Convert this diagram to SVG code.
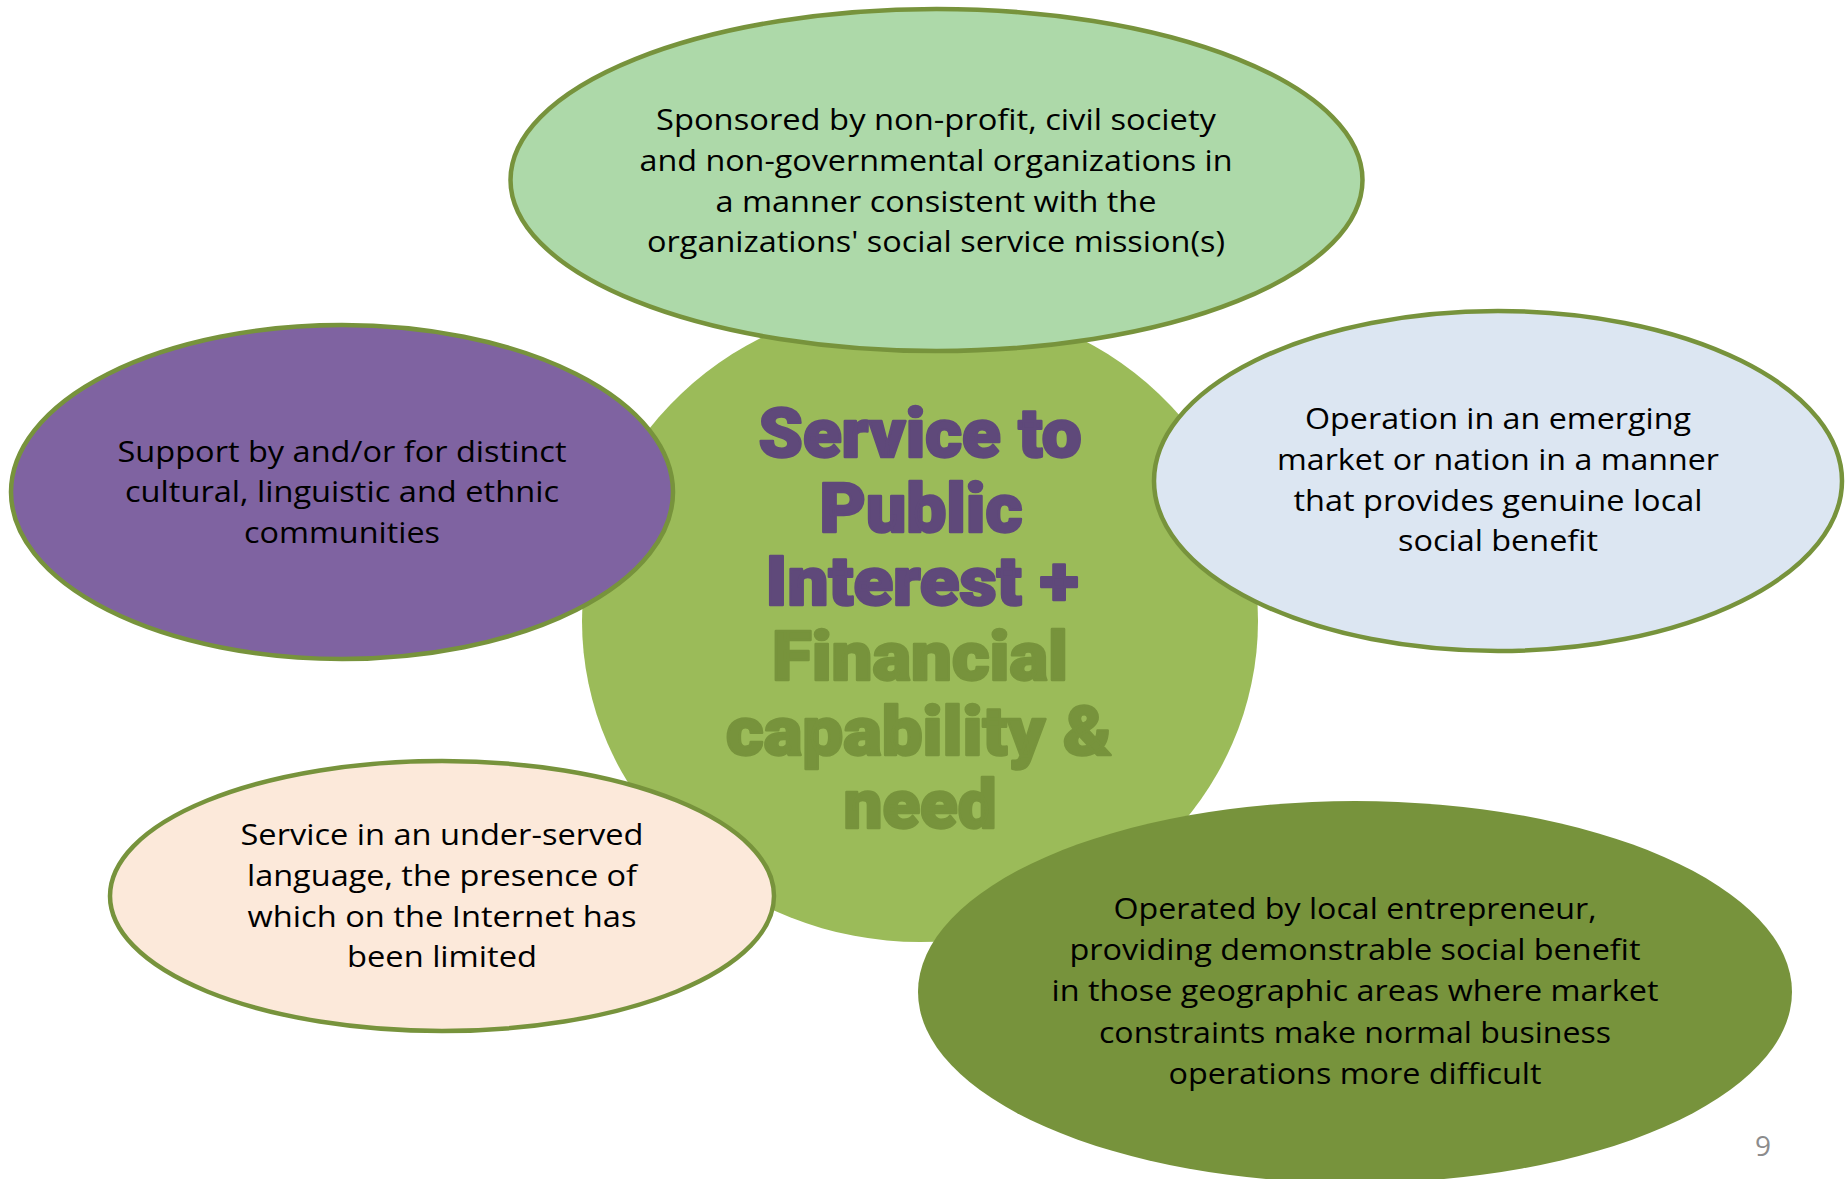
<svg xmlns="http://www.w3.org/2000/svg" width="1847" height="1179" viewBox="0 0 1847 1179">
<style>
.ring{stroke:#77933c;stroke-width:4.5}
.t{font-family:"Open Sans","Liberation Sans",sans-serif;font-size:30px;fill:#000;text-anchor:middle}
.big{font-family:Roboto,"Liberation Sans",sans-serif;font-weight:900;font-size:69px;text-anchor:middle;stroke-width:2.5;stroke-linejoin:round}
.pu{fill:#5f497a;stroke:#5f497a}
.ol{fill:#77933c;stroke:#77933c}
</style>
<rect width="1847" height="1179" fill="#ffffff"/>
<g id="center">
<ellipse cx="920" cy="621" rx="338" ry="321" fill="#9bbb59"/>
<text class="big pu" x="920" y="457" textLength="323" lengthAdjust="spacingAndGlyphs">Service to</text>
<text class="big pu" x="921" y="532" textLength="203" lengthAdjust="spacingAndGlyphs">Public</text>
<text class="big pu" x="922" y="605" textLength="313" lengthAdjust="spacingAndGlyphs">Interest +</text>
<text class="big ol" x="920" y="680" textLength="296" lengthAdjust="spacingAndGlyphs">Financial</text>
<text class="big ol" x="919" y="755" textLength="386" lengthAdjust="spacingAndGlyphs">capability &amp;</text>
<text class="big ol" x="920" y="828" textLength="153" lengthAdjust="spacingAndGlyphs">need</text>
</g>
<g id="top">
<ellipse class="ring" cx="936.5" cy="180" rx="426" ry="171" fill="#add9a9"/>
<text class="t" x="936" y="130" textLength="560" lengthAdjust="spacingAndGlyphs">Sponsored by non-profit, civil society</text>
<text class="t" x="936" y="171" textLength="593" lengthAdjust="spacingAndGlyphs">and non-governmental organizations in</text>
<text class="t" x="936" y="212" textLength="441" lengthAdjust="spacingAndGlyphs">a manner consistent with the</text>
<text class="t" x="936" y="252" textLength="578" lengthAdjust="spacingAndGlyphs">organizations' social service mission(s)</text>
</g>
<g id="left">
<ellipse class="ring" cx="342" cy="492" rx="331" ry="167" fill="#7f63a1"/>
<text class="t" x="342" y="462" textLength="449" lengthAdjust="spacingAndGlyphs">Support by and/or for distinct</text>
<text class="t" x="342" y="502" textLength="434" lengthAdjust="spacingAndGlyphs">cultural, linguistic and ethnic</text>
<text class="t" x="342" y="543" textLength="196" lengthAdjust="spacingAndGlyphs">communities</text>
</g>
<g id="right">
<ellipse class="ring" cx="1498" cy="481" rx="344" ry="170" fill="#dce6f2"/>
<text class="t" x="1498" y="429" textLength="386" lengthAdjust="spacingAndGlyphs">Operation in an emerging</text>
<text class="t" x="1498" y="470" textLength="442" lengthAdjust="spacingAndGlyphs">market or nation in a manner</text>
<text class="t" x="1498" y="511" textLength="409" lengthAdjust="spacingAndGlyphs">that provides genuine local</text>
<text class="t" x="1498" y="551" textLength="200" lengthAdjust="spacingAndGlyphs">social benefit</text>
</g>
<g id="bottom-left">
<ellipse class="ring" cx="442" cy="896" rx="332" ry="135" fill="#fce9da"/>
<text class="t" x="442" y="845" textLength="403" lengthAdjust="spacingAndGlyphs">Service in an under-served</text>
<text class="t" x="442" y="886" textLength="390" lengthAdjust="spacingAndGlyphs">language, the presence of</text>
<text class="t" x="442" y="927" textLength="389" lengthAdjust="spacingAndGlyphs">which on the Internet has</text>
<text class="t" x="442" y="967" textLength="190" lengthAdjust="spacingAndGlyphs">been limited</text>
</g>
<g id="bottom-right">
<ellipse cx="1355" cy="992" rx="437" ry="191" fill="#77933c"/>
<text class="t" x="1355" y="919" textLength="483" lengthAdjust="spacingAndGlyphs">Operated by local entrepreneur,</text>
<text class="t" x="1355" y="960" textLength="571" lengthAdjust="spacingAndGlyphs">providing demonstrable social benefit</text>
<text class="t" x="1355" y="1001" textLength="607" lengthAdjust="spacingAndGlyphs">in those geographic areas where market</text>
<text class="t" x="1355" y="1043" textLength="512" lengthAdjust="spacingAndGlyphs">constraints make normal business</text>
<text class="t" x="1355" y="1084" textLength="373" lengthAdjust="spacingAndGlyphs">operations more difficult</text>
</g>
<g id="connectors"/>
<text x="1763" y="1156" font-family="'Open Sans','Liberation Sans',sans-serif" font-size="28" fill="#8c8c8c" text-anchor="middle">9</text>
</svg>
